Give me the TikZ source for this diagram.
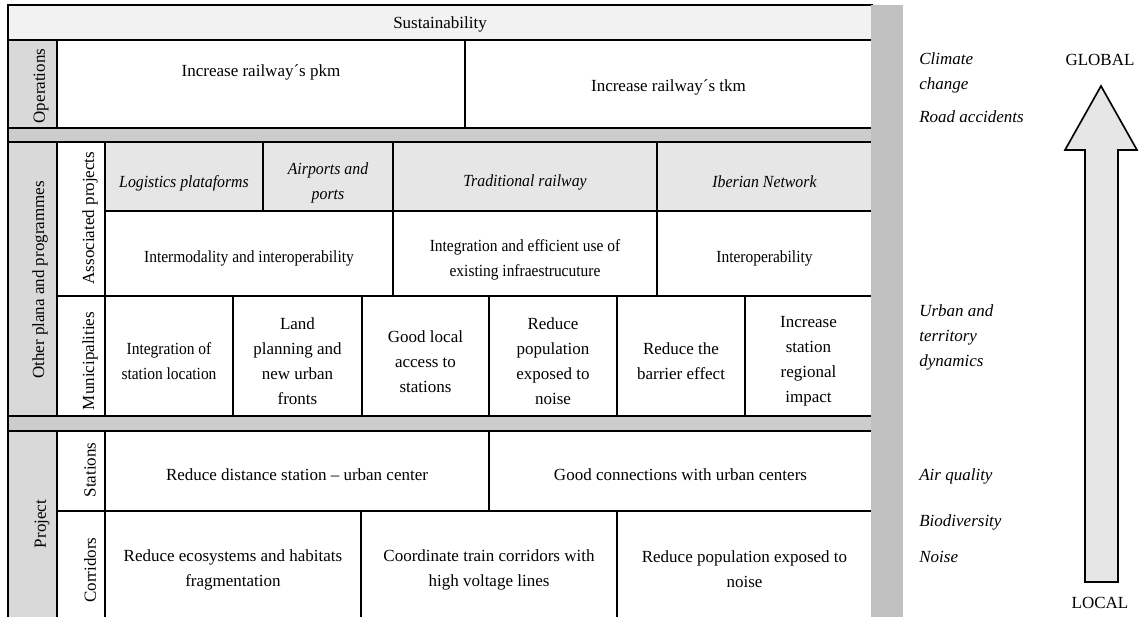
\documentclass[tikz,border=0pt]{standalone}
\usepackage{fontspec}
\setmainfont{Liberation Serif}
\newfontfamily\narrowserif[FakeStretch=0.91]{Liberation Serif}
\newfontfamily\narrowital[FakeStretch=0.93]{Liberation Serif}
\usepackage{xcolor}
\usepackage{tikz}
\definecolor{bandgray}{RGB}{242,242,242}
\definecolor{labelgray}{RGB}{217,217,217}
\definecolor{sepgray}{RGB}{204,204,204}
\definecolor{headgray}{RGB}{230,230,230}
\definecolor{bargray}{RGB}{192,192,192}

\begin{document}
\begin{tikzpicture}[
  x=0.6pt, y=-0.6pt,
  cell/.style={draw, line width=1pt, fill=white},
  labelcell/.style={cell, fill=labelgray},
  headcell/.style={cell, fill=headgray},
  sepband/.style={cell, fill=sepgray},
  txt/.style={align=center, inner sep=0pt, font=\fontsize{10.2}{15}\selectfont},
  stxt/.style={txt, font=\fontsize{10.2}{15}\selectfont\narrowserif},
  itxt/.style={txt, font=\fontsize{10.2}{15}\selectfont\narrowital\itshape},
  vlabel/.style={txt, rotate=90},
  side/.style={anchor=west, align=left, inner sep=0pt, font=\fontsize{10.2}{15}\selectfont\itshape},
  endlabel/.style={txt},
  bigarrow/.style={draw, line width=1pt, fill=headgray, line join=miter}
]
\useasboundingbox (0,0) rectangle (1142,617);

% table cells
\path[cell, fill=bandgray] (8,5) rectangle (872,40);
\path[labelcell] (8,40) rectangle (57,128);
\path[cell] (57,40) rectangle (465,128);
\path[cell] (465,40) rectangle (872,128);
\path[sepband] (8,128) rectangle (872,142);

\path[labelcell] (8,142) rectangle (57,416);
\path[cell] (57,142) rectangle (105,296);
\path[headcell] (105,142) rectangle (263,211);
\path[headcell] (263,142) rectangle (393,211);
\path[headcell] (393,142) rectangle (657,211);
\path[headcell] (657,142) rectangle (872,211);
\path[cell] (105,211) rectangle (393,296);
\path[cell] (393,211) rectangle (657,296);
\path[cell] (657,211) rectangle (872,296);
\path[cell] (57,296) rectangle (105,416);
\path[cell] (105,296) rectangle (233,416);
\path[cell] (233,296) rectangle (362,416);
\path[cell] (362,296) rectangle (489,416);
\path[cell] (489,296) rectangle (617,416);
\path[cell] (617,296) rectangle (745,416);
\path[cell] (745,296) rectangle (872,416);
\path[sepband] (8,416) rectangle (872,431);

\path[labelcell] (8,431) rectangle (57,620);
\path[cell] (57,431) rectangle (105,511);
\path[cell] (105,431) rectangle (489,511);
\path[cell] (489,431) rectangle (872,511);
\path[cell] (57,511) rectangle (105,620);
\path[cell] (105,511) rectangle (361,620);
\path[cell] (361,511) rectangle (617,620);
\path[cell] (617,511) rectangle (872,620);

% grey bar
\fill[bargray] (871.2,5) rectangle (903,620);

% texts
\node[txt] (sust) at (440,24) {Sustainability};
\node[vlabel] (ops) at (41,86) {Operations};
\node[txt] (pkm) at (261,72) {Increase railway´s pkm};
\node[txt] (tkm) at (668.5,87) {Increase railway´s tkm};

\node[vlabel] (other) at (40,280) {Other plana and programmes};
\node[vlabel] (assoc) at (90,218) {Associated projects};
\node[itxt] (logis) at (184,183) {Logistics plataforms};
\node[itxt] (airp) at (328,182.5) {Airports and\\ports};
\node[itxt] (trad) at (525,182) {Traditional railway};
\node[itxt] (iber) at (764.5,182) {Iberian Network};
\node[stxt] (intermod) at (249,258) {Intermodality and interoperability};
\node[stxt] (integ) at (525,259.5) {Integration and efficient use of\\existing infraestrucuture};
\node[stxt] (interop) at (764.5,258) {Interoperability};

\node[vlabel] (munic) at (90,361) {Municipalities};
\node[stxt] (statloc) at (169,361.5) {Integration of\\station location};
\node[txt] (landpl) at (297.5,361.5) {Land\\planning and\\new urban\\fronts};
\node[txt] (access) at (425.5,362) {Good local\\access to\\stations};
\node[txt] (noisemun) at (553,361.5) {Reduce\\population\\exposed to\\noise};
\node[txt] (barrier) at (681,361.5) {Reduce the\\barrier effect};
\node[txt] (regional) at (808.5,361.5) {Increase\\station\\regional\\impact};

\node[vlabel] (proj) at (42,524) {Project};
\node[vlabel] (stat) at (90,470) {Stations};
\node[txt] (distance) at (297,475) {Reduce distance station -- urban center};
\node[txt] (connect) at (680.5,475) {Good connections with urban centers};
\node[vlabel] (corr) at (90,570) {Corridors};
\node[txt] (ecosys) at (233,569.5) {Reduce ecosystems and habitats\\fragmentation};
\node[txt] (voltage) at (489,569.5) {Coordinate train corridors with\\high voltage lines};
\node[txt] (noisecorr) at (744.5,569.5) {Reduce population exposed to\\noise};

% scale of impacts
\node[side] (climate) at (919,73) {Climate\\change};
\node[side] (road) at (919,117) {Road accidents};
\node[side] (urban) at (919,337) {Urban and\\territory\\dynamics};
\node[side] (air) at (919,476) {Air quality};
\node[side] (biodiv) at (919,522) {Biodiversity};
\node[side] (noise) at (919,557) {Noise};

\node[endlabel] (global) at (1100,60) {GLOBAL};
\node[endlabel] (local) at (1100,603) {LOCAL};
\draw[bigarrow] (1101,86) -- (1137,150) -- (1118,150) -- (1118,582)
  -- (1085,582) -- (1085,150) -- (1065,150) -- cycle;
\end{tikzpicture}
\end{document}
